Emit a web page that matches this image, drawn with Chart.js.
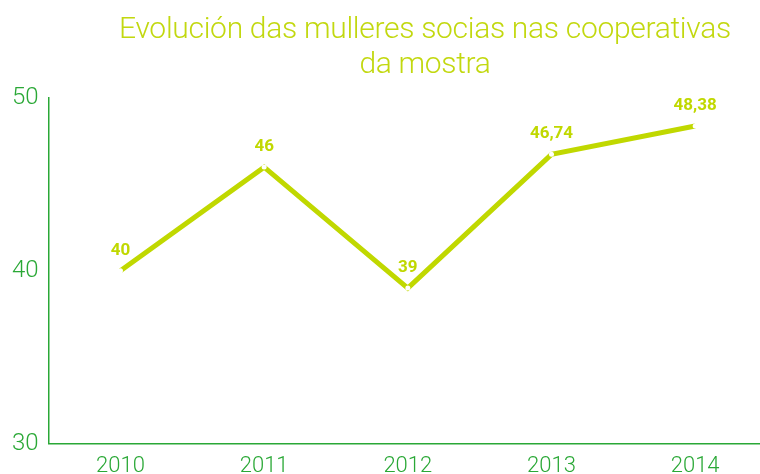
<!DOCTYPE html>
<html><head><meta charset="utf-8">
<script src="https://cdn.jsdelivr.net/npm/chart.js@4/dist/chart.umd.min.js"></script>
<style>
html,body{margin:0;padding:0;background:#fff;overflow:hidden;}
#wrap{position:relative;width:760px;height:474px;overflow:hidden;}
#title{position:absolute;left:90px;width:670px;top:10px;text-align:center;font-family:Roboto,sans-serif;font-weight:300;font-size:30px;line-height:35px;color:#c2d80f;letter-spacing:-0.3px;}
canvas{position:absolute;left:0;top:0;}
</style></head>
<body><div id="wrap"><canvas id="c" width="767" height="474"></canvas>
<div id="title">Evolución das mulleres socias nas cooperativas<br>da mostra</div></div>
<script>
const years = ["2010","2011","2012","2013","2014"];
const values = [40, 46, 39, 46.74, 48.38];
const valueLabels = ["40","46","39","46,74","48,38"];
const yTicks = [30, 40, 50];

const lime = "#c0d800";
const green = "#2aa836";

const labelPlugin = {
  id: "vlabels",
  afterDatasetsDraw(chart) {
    const ctx = chart.ctx;
    const meta = chart.getDatasetMeta(0);
    ctx.save();
    ctx.font = "bold 17px Roboto, sans-serif";
    ctx.fillStyle = lime;
    ctx.textAlign = "center";
    ctx.textBaseline = "bottom";
    meta.data.forEach((pt, i) => {
      ctx.fillText(valueLabels[i], pt.x, pt.y - 12);
    });
    ctx.restore();
  }
};

new Chart(document.getElementById("c"), {
  type: "line",
  data: {
    labels: years,
    datasets: [{
      data: values,
      borderColor: lime,
      borderWidth: 5,
      tension: 0,
      pointRadius: 2.5,
      pointBackgroundColor: "#ffffff",
      pointBorderWidth: 0,
      pointHoverRadius: 2.5
    }]
  },
  options: {
    responsive: false,
    animation: false,
    layout: { autoPadding: false, padding: { top: 98, right: 0, left: 2, bottom: -16 } },
    plugins: { legend: { display: false }, tooltip: { enabled: false }, title: { display: false } },
    scales: {
      x: {
        offset: true,
        grid: { display: false, drawTicks: false },
        border: { display: true, color: green, width: 1.5 },
        ticks: { color: green, font: { family: "Roboto, sans-serif", size: 22, weight: 300 }, padding: 10 }
      },
      y: {
        min: 30, max: 50,
        afterBuildTicks(axis) { axis.ticks = yTicks.map(v => ({ value: v })); },
        grid: { display: false, drawTicks: false },
        border: { display: true, color: green, width: 1.5 },
        ticks: { color: green, font: { family: "Roboto, sans-serif", size: 24, weight: 300 }, padding: 10 }
      }
    }
  },
  plugins: [labelPlugin]
});
</script></body></html>
